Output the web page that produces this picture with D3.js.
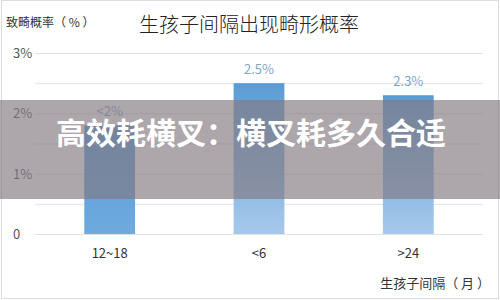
<!DOCTYPE html>
<html>
<head>
<meta charset="utf-8">
<script src="https://cdn.jsdelivr.net/npm/d3@7"></script>
<style>
  body { margin: 0; background: #fff; }
  svg { display: block; font-family: "Noto Sans CJK SC", "Noto Sans", sans-serif; }
</style>
</head>
<body>
<div id="chart"></div>
<script>
// data
var categories = ["12~18", "<6", ">24"];
var values = [1.8, 2.5, 2.3];
var valueLabels = ["<2%", "2.5%", "2.3%"];
var yTicks = [0, 1, 2, 3];
var yTickLabels = ["0", "1%", "2%", "3%"];
var gridSteps = [0, 0.5, 1, 1.5, 2, 2.5, 3];

var width = 500, height = 300;

var svg = d3.select("#chart").append("svg")
    .attr("width", width)
    .attr("height", height);

// bar gradients (first bar stays darker at the bottom)
var barBottoms = ["#6eaade", "#a6c9eb", "#a6c9eb"];
var defs = svg.append("defs");
barBottoms.forEach(function (c, i) {
    var g = defs.append("linearGradient")
        .attr("id", "bar" + i)
        .attr("x1", 0).attr("y1", 0).attr("x2", 0).attr("y2", 1);
    g.append("stop").attr("offset", "0%").attr("stop-color", "#5b9bd5");
    g.append("stop").attr("offset", "100%").attr("stop-color", c);
});

// frame
svg.append("rect")
    .attr("x", 1.5).attr("y", 0.5)
    .attr("width", width - 3).attr("height", height - 2)
    .attr("fill", "#fff")
    .attr("stroke", "#dcdcdc");

var x = d3.scaleBand()
    .domain(categories)
    .range([35, 483])
    .paddingInner(0.66)
    .paddingOuter(0.33);

var y = d3.scaleLinear()
    .domain([0, 3])
    .range([234, 53]);

// gridlines
svg.append("g").selectAll("line")
    .data(gridSteps)
    .enter().append("line")
    .attr("x1", 35).attr("x2", 483)
    .attr("y1", function (d) { return y(d) + 0.5; })
    .attr("y2", function (d) { return y(d) + 0.5; })
    .attr("stroke", "#e2e2e2")
    .attr("stroke-width", 1);

// y tick labels
svg.append("g").selectAll("text")
    .data(yTicks)
    .enter().append("text")
    .attr("x", 13)
    .attr("y", function (d) { return y(d) + 5; })
    .attr("font-size", 13)
    .attr("fill", "#555")
    .text(function (d, i) { return yTickLabels[i]; });

// bars
svg.append("g").selectAll("rect")
    .data(values)
    .enter().append("rect")
    .attr("x", function (d, i) { return x(categories[i]); })
    .attr("y", function (d) { return y(d); })
    .attr("width", x.bandwidth())
    .attr("height", function (d) { return y(0) - y(d); })
    .attr("fill", function (d, i) { return "url(#bar" + i + ")"; });

// value labels
svg.append("g").selectAll("text")
    .data(values)
    .enter().append("text")
    .attr("x", function (d, i) { return x(categories[i]) + x.bandwidth() / 2; })
    .attr("y", function (d) { return y(d) - 9; })
    .attr("text-anchor", "middle")
    .attr("font-size", 13)
    .attr("fill", "#7fa4c9")
    .text(function (d, i) { return valueLabels[i]; });

// x labels
svg.append("g").selectAll("text")
    .data(categories)
    .enter().append("text")
    .attr("x", function (d) { return x(d) + x.bandwidth() / 2; })
    .attr("y", 258)
    .attr("text-anchor", "middle")
    .attr("font-size", 13)
    .attr("fill", "#333")
    .text(function (d) { return d; });

// titles
svg.append("text")
    .attr("x", 249).attr("y", 32)
    .attr("text-anchor", "middle")
    .attr("font-size", 20)
    .attr("font-weight", 300)
    .attr("fill", "#222")
    .text("生孩子间隔出现畸形概率");

svg.append("text")
    .attr("x", 6).attr("y", 27)
    .attr("font-size", 12)
    .attr("fill", "#333")
    .text("致畸概率（ % ）");

svg.append("text")
    .attr("x", 490).attr("y", 288)
    .attr("text-anchor", "end")
    .attr("font-size", 13)
    .attr("fill", "#333")
    .text("生孩子间隔（ 月 ）");

// banner overlaid across the middle
svg.append("rect")
    .attr("x", 0).attr("y", 100)
    .attr("width", width).attr("height", 99)
    .attr("fill", "rgb(131,122,129)")
    .attr("fill-opacity", 0.66);

svg.append("text")
    .attr("x", 251).attr("y", 144)
    .attr("text-anchor", "middle")
    .attr("font-size", 30)
    .attr("font-weight", 700)
    .attr("fill", "#fff")
    .text("高效耗横叉：横叉耗多久合适");
</script>
</body>
</html>
